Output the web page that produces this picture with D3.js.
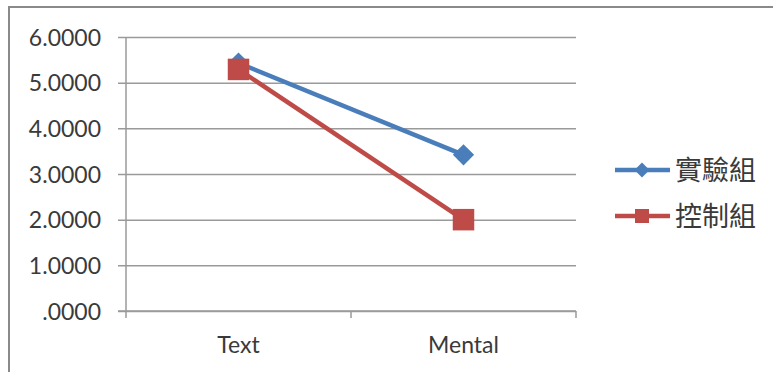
<!DOCTYPE html>
<html>
<head>
<meta charset="utf-8">
<script src="https://cdn.jsdelivr.net/npm/d3@7"></script>
<style>
  html, body { margin: 0; padding: 0; background: #fff; }
  svg { display: block; }
  text { font-family: Lato, "Noto Sans", sans-serif; fill: #3a3a3a; }
  .legend text { font-family: "Noto Sans CJK TC", "Noto Sans CJK SC", sans-serif; }
</style>
</head>
<body>
<svg id="chart" width="773" height="372"></svg>
<script>
// Mean scores by task type for the two groups
const categories = ["Text", "Mental"];
const seriesNames = ["實驗組", "控制組"];
const experimentalValues = [5.43, 3.42];
const controlValues = [5.29, 2.00];
const yTicks = [0, 1, 2, 3, 4, 5, 6];
const yTickLabels = [".0000", "1.0000", "2.0000", "3.0000", "4.0000", "5.0000", "6.0000"];

const colors = ["#4a7ebb", "#be4b48"];
const series = [
  { name: seriesNames[0], values: experimentalValues, color: colors[0], shape: "diamond" },
  { name: seriesNames[1], values: controlValues, color: colors[1], shape: "square" }
];

const svg = d3.select("#chart");
const plot = { left: 126, right: 576, top: 37, bottom: 311 };

// outer frame (extends past the right/bottom edges)
svg.append("rect")
  .attr("x", 9).attr("y", 7)
  .attr("width", 900).attr("height", 500)
  .attr("fill", "#fff")
  .attr("stroke", "#8a8a8a")
  .attr("stroke-width", 2);

const x = d3.scaleBand().domain(categories).range([plot.left, plot.right]);
const y = d3.scaleLinear().domain([0, 6]).range([plot.bottom, plot.top]);

const gridColor = "#9a9a9a";

// horizontal gridlines + left tick marks
const yAxis = d3.axisLeft(y)
  .tickValues(yTicks)
  .tickSize(-(plot.right - plot.left))
  .tickSizeOuter(0)
  .tickPadding(0)
  .tickFormat((d, i) => yTickLabels[i]);

const gy = svg.append("g")
  .attr("transform", `translate(${plot.left},0)`)
  .call(yAxis);
gy.select(".domain").remove();
gy.selectAll(".tick line")
  .attr("x1", -8)
  .attr("stroke", gridColor)
  .attr("stroke-width", 1.5);
gy.selectAll(".tick text")
  .attr("x", -25)
  .attr("dy", "0.36em")
  .style("font-size", "23px")
  .attr("fill", "#3a3a3a");

// vertical axis line
svg.append("line")
  .attr("x1", plot.left).attr("x2", plot.left)
  .attr("y1", plot.top).attr("y2", plot.bottom + 1)
  .attr("stroke", gridColor).attr("stroke-width", 1.5);

// category axis
const xAxis = d3.axisBottom(x).tickSize(0).tickSizeOuter(0).tickPadding(0);
const gx = svg.append("g")
  .attr("transform", `translate(0,${plot.bottom})`)
  .call(xAxis);
gx.select(".domain").remove();
gx.selectAll(".tick text")
  .attr("y", 42)
  .attr("dy", 0)
  .style("font-size", "23px")
  .attr("fill", "#3a3a3a");

svg.append("line")
  .attr("x1", plot.left - 8).attr("x2", plot.right)
  .attr("y1", plot.bottom).attr("y2", plot.bottom)
  .attr("stroke", gridColor).attr("stroke-width", 1.5);

// category boundary ticks
const boundaries = categories.map(c => x(c)).concat([x(categories[categories.length - 1]) + x.bandwidth()]);
svg.selectAll(".cat-tick")
  .data(boundaries)
  .join("line")
  .attr("class", "cat-tick")
  .attr("x1", d => d).attr("x2", d => d)
  .attr("y1", plot.bottom).attr("y2", plot.bottom + 7)
  .attr("stroke", gridColor).attr("stroke-width", 1.5);

const cx = c => x(c) + x.bandwidth() / 2;

const symbolFor = (shape, big) => {
  if (shape === "diamond") {
    return d3.symbol().type(d3.symbolSquare).size(big ? 225 : 112)();
  }
  return d3.symbol().type(d3.symbolSquare).size(big ? 462 : 196)();
};

const line = d3.line()
  .x((d, i) => cx(categories[i]))
  .y(d => y(d));

// series lines, then markers on top
series.forEach(s => {
  svg.append("path")
    .datum(s.values)
    .attr("fill", "none")
    .attr("stroke", s.color)
    .attr("stroke-width", 4.5)
    .attr("stroke-linejoin", "round")
    .attr("d", line);
});

series.forEach(s => {
  svg.selectAll(null)
    .data(s.values)
    .join("path")
    .attr("d", symbolFor(s.shape, true))
    .attr("fill", s.color)
    .attr("transform", (d, i) => `translate(${cx(categories[i])},${y(d)})` + (s.shape === "diamond" ? " rotate(45)" : ""));
});

// legend
const legend = svg.append("g").attr("class", "legend");
const legendX = 615, legendY0 = 170, legendStep = 46;
series.forEach((s, i) => {
  const g = legend.append("g").attr("transform", `translate(${legendX},${legendY0 + i * legendStep})`);
  g.append("line")
    .attr("x1", 0).attr("x2", 55)
    .attr("y1", 0).attr("y2", 0)
    .attr("stroke", s.color).attr("stroke-width", 4.5);
  g.append("path")
    .attr("d", symbolFor(s.shape, false))
    .attr("fill", s.color)
    .attr("transform", `translate(27,0)` + (s.shape === "diamond" ? " rotate(45)" : ""));
  g.append("text")
    .attr("x", 60)
    .attr("y", 0)
    .attr("dy", "0.36em")
    .style("font-size", "27px")
    .text(s.name);
});
</script>
</body>
</html>
